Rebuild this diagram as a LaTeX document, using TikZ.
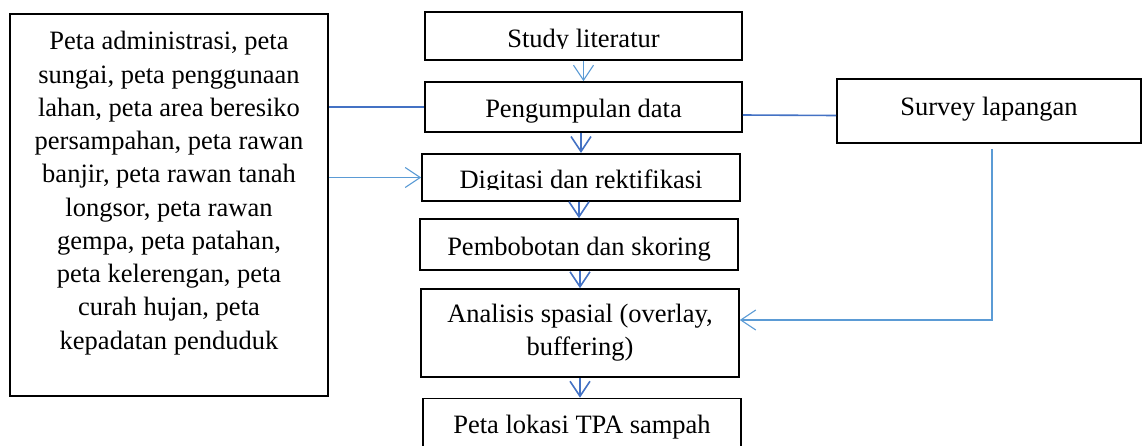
\documentclass[tikz,border=0pt]{standalone}
\usepackage{fontspec}
\setmainfont{Liberation Serif}
\usetikzlibrary{arrows.meta,positioning}
\definecolor{lineA}{RGB}{91,155,213}
\definecolor{lineB}{RGB}{68,114,196}
\newcommand{\boxfont}{\fontsize{26.5pt}{33.25pt}\selectfont}
\tikzset{
  box/.style ={draw,line width=1.6pt,inner sep=0pt,align=center,font=\boxfont},
  txt/.style ={inner sep=0pt,align=center,font=\boxfont},
  one/.style ={text height=#1,text depth=0pt},
  lite/.style={lineA,line width=1.1pt},
  deep/.style={lineB,line width=1.6pt},
  ar/.style  ={-{Straight Barb[length=15pt,width=20pt]}},
  mask/.style={fill=white},
}

\begin{document}
\begin{tikzpicture}[x=1pt,y=-1pt]
  \useasboundingbox (0,0) rectangle (1144,445);
  % data sources
  \node[box,minimum width=318pt,minimum height=382pt] (lbox) at (169,205){};
  \node[txt,below=18pt of lbox.north] (ltxt){Peta administrasi, peta\\sungai, peta penggunaan\\lahan, peta area beresiko\\persampahan, peta rawan\\banjir, peta rawan tanah\\longsor, peta rawan\\gempa, peta patahan,\\peta kelerengan, peta\\curah hujan, peta\\kepadatan penduduk};
  % main flow
  \node[box,one=22pt,minimum width=317pt,minimum height=48pt] (lit)  at (583.5,36){Study literatur};
  \node[box,one=20pt,minimum width=317pt,minimum height=50pt] (peng) at (583.5,107){Pengumpulan data};
  \node[box,one=22pt,minimum width=318pt,minimum height=47.5pt] (dig) at (581,177.5){Digitasi dan rektifikasi};
  \node[box,one=21pt,minimum width=318pt,minimum height=51pt] (pemb) at (579,244.5){Pembobotan dan skoring};
  \node[box,minimum width=318pt,minimum height=88pt] (anal) at (580,333){Analisis spasial (overlay,\\buffering)};
  \node[box,one=9pt,minimum width=318pt,minimum height=61pt] (peta) at (582,429){Peta lokasi TPA sampah};
  \node[box,one=8pt,minimum width=304pt,minimum height=64pt] (surv) at (989,111){Survey lapangan};
  % cut-off descenders
  \fill[mask] ([shift={(2pt,2pt)}]lit.south west) rectangle ([shift={(-2pt,12pt)}]lit.south east);
  \fill[mask] ([shift={(2pt,2pt)}]dig.south west) rectangle ([shift={(-2pt,12pt)}]dig.south east);
  % connectors
  \draw[lite,ar] (lit.south) -- (peng.north);
  \draw[deep,ar] (dig.north |- peng.south) -- (dig.north);
  \draw[deep,ar] (pemb.north |- dig.south) -- (pemb.north);
  \draw[deep,ar] (anal.north |- pemb.south) -- (anal.north);
  \draw[deep,ar] (anal.south) -- (anal.south |- peta.north);
  \draw[deep] (lbox.east |- peng.west) -- (peng.west);
  \draw[deep] ([yshift=-8pt]peng.east) -- ([yshift=-4.5pt]surv.west);
  \draw[lite,ar] (lbox.east |- dig.west) -- (dig.west);
  \draw[lite,ar] ([xshift=3pt,yshift=-5pt]surv.south) |- ([yshift=13pt]anal.east);
\end{tikzpicture}
\end{document}
